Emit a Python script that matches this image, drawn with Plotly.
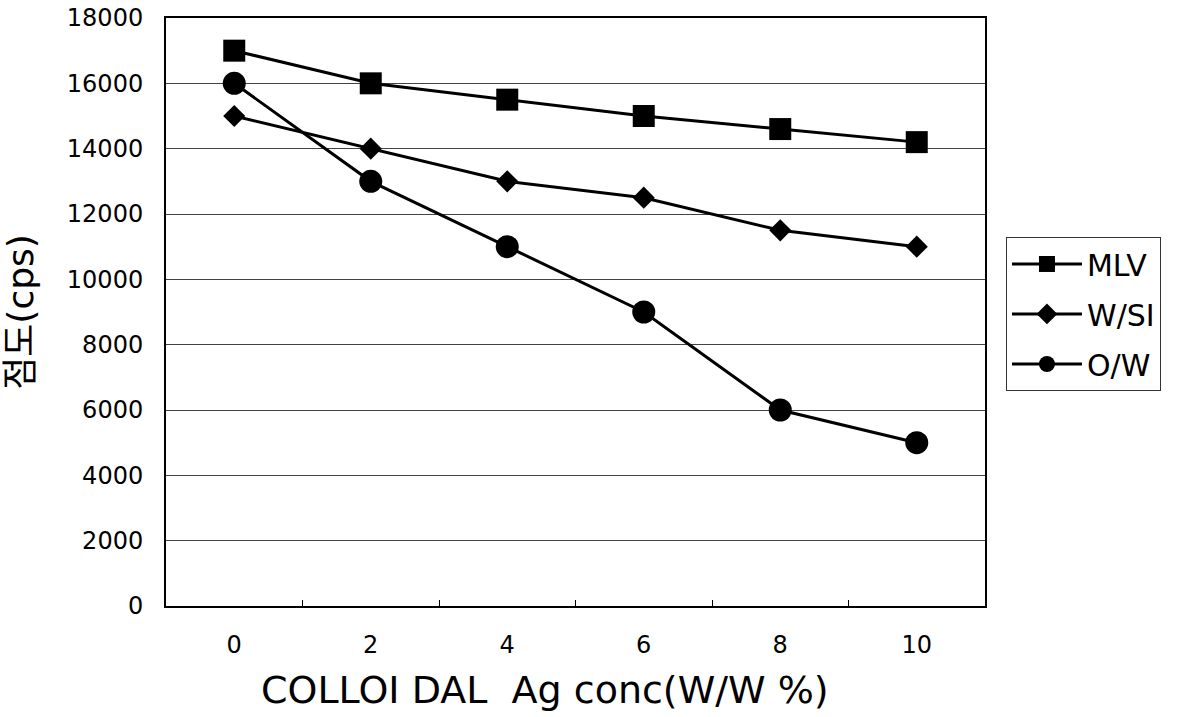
import plotly.graph_objects as go

categories = ["0", "2", "4", "6", "8", "10"]
mlv = [17000, 16000, 15500, 15000, 14600, 14200]
wsi = [15000, 14000, 13000, 12500, 11500, 11000]
ow = [16000, 13000, 11000, 9000, 6000, 5000]
y_ticks = [0, 2000, 4000, 6000, 8000, 10000, 12000, 14000, 16000, 18000]

FONT = "DejaVu Sans, Noto Sans CJK KR, sans-serif"

fig = go.Figure()
series = [
    ("MLV", mlv, "square", 22),
    ("W/SI", wsi, "diamond", 17),
    ("O/W", ow, "circle", 23),
]
for name, vals, sym, size in series:
    fig.add_trace(go.Scatter(
        x=categories, y=vals, name=name, legendgroup=name,
        mode="lines+markers",
        line=dict(color="black", width=3),
        marker=dict(symbol=sym, size=size, color="black"),
    ))

fig.update_layout(
    width=1191, height=717,
    margin=dict(l=166, r=206, t=18, b=111, autoexpand=False),
    paper_bgcolor="white", plot_bgcolor="white",
    font=dict(family=FONT, color="black", size=24),
    showlegend=True,
    legend=dict(
        x=1.0256, y=0.6276, xanchor="left", yanchor="top",
        bordercolor="#333", borderwidth=1,
        font=dict(size=30, family=FONT),
        tracegroupgap=8, itemwidth=70,
    ),
    annotations=[
        dict(text="COLLOI DAL  Ag conc(W/W %)", xref="paper", yref="paper",
             x=(545 - 166) / 819, y=-(690 - 606) / 588,
             xanchor="center", yanchor="middle", showarrow=False,
             font=dict(size=38, family=FONT)),
    ],
)
fig.update_xaxes(
    type="category", range=[-0.5, 5.5], automargin=False,
    tickson="boundaries", ticks="inside", ticklen=6, tickcolor="black", tickwidth=1,
    showline=True, linecolor="black", linewidth=2, mirror=True,
    showgrid=False, zeroline=False,
    tickfont=dict(size=24), ticklabelstandoff=16,
)
fig.update_yaxes(
    range=[0, 18000], tickvals=y_ticks, ticktext=[str(v) for v in y_ticks],
    automargin=False,
    showline=True, linecolor="black", linewidth=2, mirror=True,
    showgrid=True, gridcolor="#444", gridwidth=1, zeroline=False,
    ticks="", tickfont=dict(size=24), ticklabelstandoff=16,
    title=dict(text="점도(cps)", font=dict(size=36, family=FONT), standoff=30),
)

fig.write_html("out.html")
